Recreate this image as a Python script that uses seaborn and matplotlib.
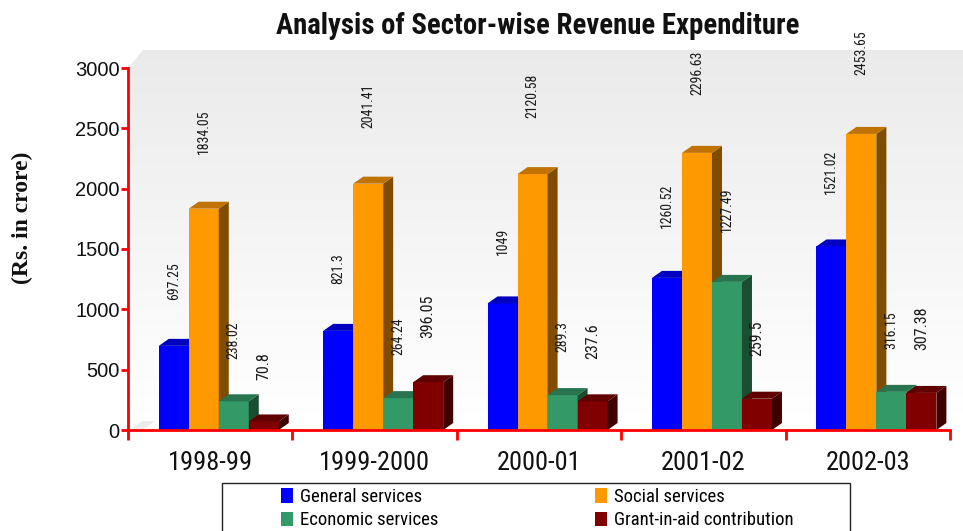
import numpy as np
import pandas as pd
import matplotlib
matplotlib.use("Agg")
import matplotlib.pyplot as plt
from matplotlib.patches import Polygon, Rectangle, Patch
import seaborn as sns

# ---------------- data ----------------
years = ["1998-99", "1999-2000", "2000-01", "2001-02", "2002-03"]
sectors = ["General services", "Social services", "Economic services", "Grant-in-aid contribution"]
general = [697.25, 821.3, 1049, 1260.52, 1521.02]
social = [1834.05, 2041.41, 2120.58, 2296.63, 2453.65]
economic = [238.02, 264.24, 289.3, 1227.49, 316.15]
grant = [70.8, 396.05, 237.6, 259.5, 307.38]
label_texts = [
    ["697.25", "821.3", "1049", "1260.52", "1521.02"],
    ["1834.05", "2041.41", "2120.58", "2296.63", "2453.65"],
    ["238.02", "264.24", "289.3", "1227.49", "316.15"],
    ["70.8", "396.05", "237.6", "259.5", "307.38"],
]
yticks = [0, 500, 1000, 1500, 2000, 2500, 3000]

front_cols = ["#0000FF", "#FF9900", "#339966", "#800000"]
top_cols = ["#0000C0", "#C07300", "#27744E", "#600000"]
side_cols = ["#00007A", "#804C00", "#1B4D33", "#400000"]

df = pd.DataFrame({
    "year": np.repeat(years, 4),
    "sector": sectors * len(years),
    "value": np.ravel(np.column_stack([general, social, economic, grant])),
})

W, H = 963, 531
fig = plt.figure(figsize=(W / 100, H / 100), dpi=100)
fig.patch.set_facecolor("white")

NARROW = ["Roboto Condensed", "PT Sans Narrow", "Liberation Sans", "DejaVu Sans"]

# ------------- background wall (gradient) -------------
bg = fig.add_axes([0, 0, 1, 1], zorder=-1)
bg.set_xlim(0, W)
bg.set_ylim(H, 0)
bg.axis("off")
grad = np.linspace(0.92, 1.0, 256).reshape(-1, 1)
img = bg.imshow(np.dstack([grad, grad, grad]), extent=(130, W, 415, 50),
                aspect="auto", interpolation="bilinear")
wall = Polygon([(130, 430), (130, 66), (143, 50), (W, 50), (W, 430)],
               closed=True, facecolor="none", edgecolor="none",
               transform=bg.transData)
bg.add_patch(wall)
img.set_clip_path(wall)
bg.add_patch(Polygon([(130, 430), (W, 430), (W, 415), (130, 415)],
                     closed=True, facecolor="white", edgecolor="none"))
bg.add_patch(Polygon([(130, 430), (142, 421), (155, 421), (143, 430)],
                     closed=True, facecolor="#ECECEC", edgecolor="none"))

# ------------- main axes -------------
ax = fig.add_axes([128 / W, (H - 430) / H, (950 - 128) / W, (430 - 68) / H])
ax.set_facecolor("none")

sns.barplot(data=df, x="year", y="value", hue="sector", hue_order=sectors,
            palette=front_cols, saturation=1, width=0.73, dodge=True,
            legend=False, ax=ax, edgecolor="none", linewidth=0)

ax.set_xlim(-0.5, 4.5)
ax.set_ylim(0, 3000)

dx = 0.061  # depth in category units
dy = 58     # depth in value units
shift = 0.052

for i, cont in enumerate(ax.containers):
    for j, bar in enumerate(cont):
        bar.set_x(bar.get_x() + shift)
        x = bar.get_x()
        w = bar.get_width()
        h = bar.get_height()
        z = 3 + i
        bar.set_zorder(z)
        ax.add_patch(Polygon([(x + w, 0), (x + w + dx, dy), (x + w + dx, h + dy), (x + w, h)],
                             closed=True, facecolor=side_cols[i], edgecolor="none",
                             zorder=z + 0.01))
        ax.add_patch(Polygon([(x, h), (x + w, h), (x + w + dx, h + dy), (x + dx, h + dy)],
                             closed=True, facecolor=top_cols[i], edgecolor="none",
                             zorder=z + 0.02))
        fs = 11.5 if i == 3 else 10
        ax.text(x + w / 2, h * 1.06 + 340, label_texts[i][j], rotation=90,
                ha="center", va="bottom", fontsize=fs, family=NARROW,
                color="#1a1a1a", zorder=10)

# spines & ticks
for s in ["top", "right"]:
    ax.spines[s].set_visible(False)
for s in ["left", "bottom"]:
    ax.spines[s].set_color("red")
    ax.spines[s].set_linewidth(2)
    ax.spines[s].set_zorder(20)

ax.set_yticks(yticks)
ax.set_yticklabels([str(v) for v in yticks], fontsize=14.5,
                   family=["Liberation Sans", "DejaVu Sans"], color="#111111")
ax.tick_params(axis="y", colors="red", length=5, width=2, direction="out",
               pad=1, labelcolor="#111111")

ax.set_xticks(range(len(years)))
ax.set_xticklabels(years, fontsize=19, family=NARROW, color="#111111")
ax.set_xticks(np.arange(-0.5, len(years)), minor=True)
ax.tick_params(axis="x", which="major", length=0, pad=15, labelcolor="#111111")
ax.tick_params(axis="x", which="minor", colors="red", length=7, width=2, direction="out")
ax.set_xlabel("")
ax.set_ylabel("")
ax.grid(False)

# title and y label
fig.text(538 / W, (H - 34) / H, "Analysis of Sector-wise Revenue Expenditure",
         ha="center", va="baseline", fontsize=20.7, fontweight="bold",
         family=NARROW, color="#111111")
fig.text(22 / W, (H - 218) / H, "(Rs. in crore)", rotation=90, ha="center",
         va="center", fontsize=17, fontweight="bold",
         family=["Liberation Serif", "DejaVu Serif"], color="#111111")

# legend box
fig.add_artist(Rectangle((222 / W, -0.05), (850 - 222) / W, (H - 483) / H + 0.05,
                         transform=fig.transFigure, facecolor="white",
                         edgecolor="#222222", linewidth=1))
handles = [Patch(facecolor=c, edgecolor="none") for c in front_cols]
common = dict(frameon=False, handlelength=0.65, handleheight=0.8,
              handletextpad=0.35, labelspacing=0.28, borderpad=0,
              borderaxespad=0, loc="upper left",
              prop={"family": NARROW, "size": 13.5})
fig.legend([handles[0], handles[2]], [sectors[0], sectors[2]],
           bbox_to_anchor=(281 / W, (H - 488) / H), **common)
fig.legend([handles[1], handles[3]], [sectors[1], sectors[3]],
           bbox_to_anchor=(595 / W, (H - 488) / H), **common)

fig.savefig("out.png", dpi=100)
